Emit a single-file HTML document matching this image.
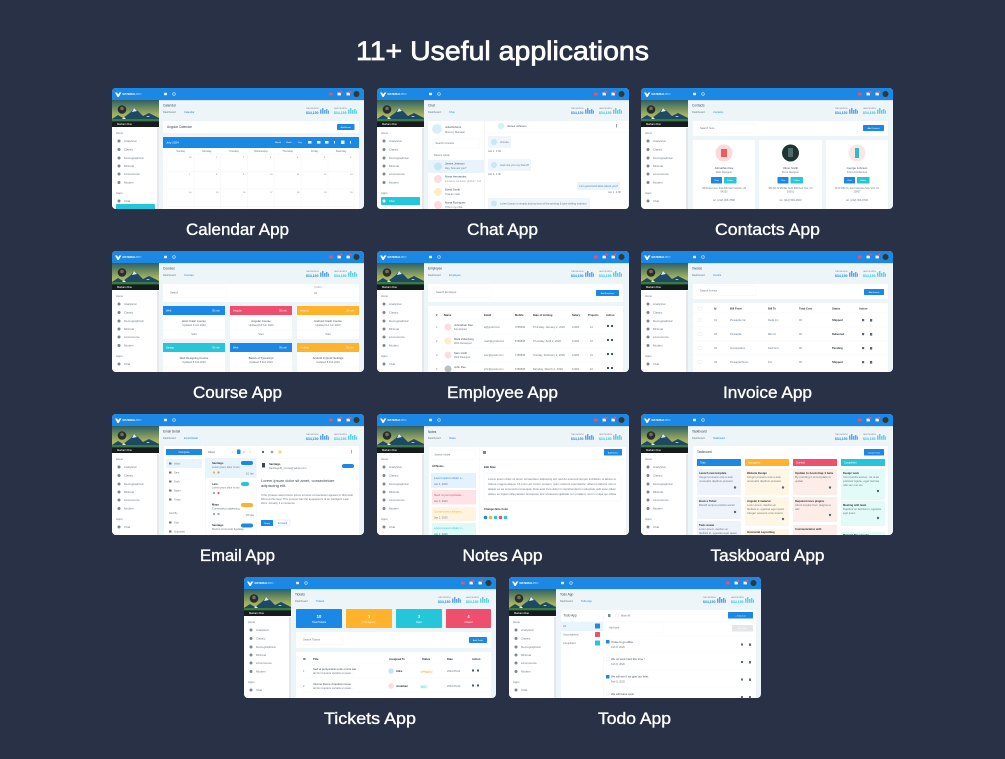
<!DOCTYPE html>
<html lang="en"><head><meta charset="utf-8"><title>11+ Useful applications</title>
<style>
html,body{margin:0;padding:0;background:#283146;width:1005px;height:759px;overflow:hidden}
svg{display:block;font-family:"Liberation Sans",sans-serif}
.h{fill:#fff;font-size:27px;stroke:#fff;stroke-width:.7px}
.l{fill:#fff;font-size:17px;stroke:#fff;stroke-width:.35px;text-anchor:middle}
.s{font-size:2.600px;fill:#6b7a85}
.d{font-size:2.800px;fill:#3f4f5c}
.b{font-size:2.700px;fill:#263238;font-weight:bold}
.t{font-size:3.200px;fill:#37474f}
.w{font-size:2.600px;fill:#fff}
.a{font-size:2.600px;fill:#1e88e5}
.m{text-anchor:middle}
</style></head><body>
<svg width="1005" height="759" viewBox="0 0 1005 759" xmlns="http://www.w3.org/2000/svg">
<defs>
<clipPath id="c"><rect width="252" height="121" rx="4"/></clipPath>
<filter id="f" x="0" y="0" width="100%" height="100%"><feGaussianBlur stdDeviation=".3"/></filter>
<linearGradient id="sky" x1="0" y1="0" x2="0" y2="1"><stop offset="0" stop-color="#2f5f63"/><stop offset=".55" stop-color="#a4b35f"/><stop offset="1" stop-color="#c5c36a"/></linearGradient>
<g id="chrome">
<rect width="252" height="121" fill="#eef5f9"/>
<rect width="252" height="12" fill="#1e88e5"/>
<rect y="12" width="252" height=".8" fill="#cfdde6"/>
<path d="M3 4.500h2l1.200 2 1.200-2h2L6.600 9h-1z" fill="#fff"/>
<text x="10.500" y="6.900" class="w" font-weight="bold" style="font-size:2.600px">MATERIAL<tspan fill="#bfe0fb" font-weight="normal">PRO</tspan></text>
<rect x="52" y="4.800" width="3" height="2.400" fill="#dcecfa"/><circle cx="62" cy="6" r="1.300" fill="none" stroke="#dcecfa" stroke-width=".6"/>
<rect x="217" y="4.600" width="3.600" height="2.800" fill="#ef4f6e"/>
<rect x="225.500" y="4.600" width="3.400" height="2.800" fill="#eef5fb"/><circle cx="229" cy="4" r="1.300" fill="#ef4f6e"/>
<rect x="234.500" y="4.600" width="3.400" height="2.800" fill="#eef5fb"/><circle cx="238" cy="4" r="1.300" fill="#ef4f6e"/>
<circle cx="244.500" cy="6" r="3" fill="#2f3a35"/>
<rect y="12" width="47" height="109" fill="#fff"/>
<rect x="45" y="40" width="2" height="81" fill="#e4e8ea"/>
<rect y="12" width="47" height="27" fill="url(#sky)"/>
<path d="M0 31l6-4 5 3 8-6 3-4 4 3 5 5 6-3 10 5v7H0z" fill="#1f4a63"/>
<path d="M20 24l2-4 3 3zM10 31l2-2 2 2zM34 29l2-1 2 1z" fill="#dfe9ee"/>
<rect y="31" width="47" height="2.400" fill="#3a7a42"/>
<rect y="33.400" width="47" height="5.600" fill="#161d1f"/>
<circle cx="10" cy="21.500" r="4.300" fill="#2b2f2c"/><circle cx="10" cy="20.500" r="1.800" fill="#786a5e"/>
<text x="5" y="37" class="w" style="font-size:2.600px">Markarn Doe</text>
<text x="4" y="46" class="s">Home</text>
<g fill="#7a8890"><circle cx="7" cy="53" r="1.500"/><circle cx="7" cy="61.500" r="1.500"/><circle cx="7" cy="70" r="1.500"/><circle cx="7" cy="78" r="1.500"/><circle cx="7" cy="86" r="1.500"/><circle cx="7" cy="94.500" r="1.500"/><circle cx="7" cy="113" r="1.500"/></g>
<g fill="#6b7a85" style="font-size:2.900px"><text x="12" y="54">Analytical</text><text x="12" y="62.500">Classic</text><text x="12" y="71">Demographical</text><text x="12" y="79">Minimal</text><text x="12" y="87">eCommerce</text><text x="12" y="95.500">Modern</text><text x="12" y="114">Chat</text><text x="4" y="106">Apps</text></g>
<text x="194" y="26" fill="#1e88e5" font-weight="bold" style="font-size:3.400px" textLength="12.500">$34,150</text>
<text x="222" y="26" fill="#26c6da" font-weight="bold" style="font-size:3.400px" textLength="12.500">$34,150</text>
<g fill="#1e88e5" opacity=".7"><rect x="208" y="21.500" width="1.500" height="4.300"/><rect x="210" y="20" width="1.500" height="5.800"/><rect x="212" y="22" width="1.500" height="3.800"/><rect x="214" y="21" width="1.500" height="4.800"/><rect x="216" y="22.500" width="1" height="3.300"/></g>
<g fill="#26c6da" opacity=".7"><rect x="236" y="21.500" width="1.500" height="4.300"/><rect x="238" y="20" width="1.500" height="5.800"/><rect x="240" y="22" width="1.500" height="3.800"/><rect x="242" y="21" width="1.500" height="4.800"/><rect x="244" y="22.500" width="1" height="3.300"/></g>
<text x="194" y="21" class="s" style="font-size:2px">THIS MONTH</text><text x="222" y="21" class="s" style="font-size:2px">LAST MONTH</text>
</g>
</defs>
<rect width="1005" height="759" fill="#283146"/>
<text x="502.500" y="60" class="h" text-anchor="middle" textLength="293" lengthAdjust="spacingAndGlyphs">11+ Useful applications</text>

<g filter="url(#f)">
<!-- Calendar -->
<g transform="translate(112 88)" clip-path="url(#c)"><use href="#chrome"/>
<rect x="4" y="116" width="39" height="8" rx="1" fill="#26c6da"/>
<text x="51" y="18.500" class="t">Calendar</text><text x="51" y="25" class="s">Dashboard</text><text x="72" y="25" class="a">Calendar</text>
<rect x="51" y="33" width="196" height="12" rx=".8" fill="#fff"/><text x="55" y="40" class="t">Angular Calendar</text>
<rect x="225" y="36" width="17.500" height="6" rx=".8" fill="#1e88e5"/><text x="233.700" y="40" class="w m" style="font-size:2.200px">Add Event</text>
<rect x="51" y="49" width="196" height="11" fill="#1e88e5"/><text x="54" y="55.500" class="w" style="font-size:3px">July 2024</text>
<text x="163" y="55" class="w" style="font-size:2.200px">Month</text><text x="174" y="55" class="w" style="font-size:2.200px">Week</text><text x="186" y="55" class="w" style="font-size:2.200px">Day</text>
<g fill="#e3f1fc"><rect x="196" y="53" width="3.500" height="2.600"/><rect x="205" y="53" width="3.500" height="2.600"/><rect x="213" y="53" width="3.500" height="2.600"/><rect x="222" y="53" width="1" height="2.600"/><rect x="229" y="52.500" width="3.500" height="3.500"/><rect x="238" y="53" width="1" height="2.600"/></g>
<rect x="51" y="60" width="196" height="61" fill="#fff"/>
<g class="s m"><text x="68.700" y="64">Sunday</text><text x="95" y="64">Monday</text><text x="122" y="64">Tuesday</text><text x="149" y="64">Wednesday</text><text x="175.700" y="64">Thursday</text><text x="202.700" y="64">Friday</text><text x="229" y="64">Saturday</text></g>
<path d="M55 66H242M55 83.500H242M55 101H242M55 118.500H242M55 66V121M82 66V121M108.500 66V121M135.500 66V121M162 66V121M189 66V121M216 66V121M242 66V121" stroke="#eef0f2" stroke-width=".4" fill="none"/>
<g fill="#6b7a85" style="font-size:2.200px"><text x="77" y="70">30</text><text x="104" y="70">1</text><text x="131" y="70">2</text><text x="158" y="70">3</text><text x="185" y="70">4</text><text x="212" y="70">5</text><text x="238" y="70">6</text><text x="77" y="87">7</text><text x="104" y="87">8</text><text x="131" y="87">9</text><text x="158" y="87">10</text><text x="185" y="87">11</text><text x="212" y="87">12</text><text x="238" y="87">13</text><text x="77" y="105">14</text><text x="104" y="105">15</text><text x="131" y="105">16</text><text x="158" y="105">17</text><text x="185" y="105">18</text><text x="212" y="105">19</text><text x="238" y="105">20</text></g>
</g>

<!-- Chat -->
<g transform="translate(377 88)" clip-path="url(#c)"><use href="#chrome"/>
<rect x="4" y="109" width="39" height="8" rx="1" fill="#26c6da"/><text x="12" y="114" class="w">Chat</text><circle cx="7" cy="113" r="1.500" fill="#fff"/>
<text x="51" y="18.500" class="t">Chat</text><text x="51" y="25" class="s">Dashboard</text><text x="72" y="25" class="a">Chat</text>
<rect x="51" y="33" width="200" height="88" fill="#fff"/><rect x="107" y="33" width=".4" height="88" fill="#e4e8ea"/>
<circle cx="60" cy="41" r="5" fill="#d8eff7"/><text x="68" y="40" class="d">Julia Roberts</text><text x="68" y="45" class="s">Mommy Manager</text>
<rect x="56" y="51" width="47" height="9" rx="1" fill="#fff" stroke="#eef0f2" stroke-width=".3"/><text x="58.500" y="56" class="s">Search contacts</text>
<text x="57" y="68" class="s">Recent Chats</text>
<rect x="51" y="72" width="56" height="13" fill="#e8f4fb"/>
<circle cx="61" cy="78.500" r="4" fill="#c7e6f3"/><text x="68" y="76.500" class="d">James Johnson</text><text x="68" y="81" class="s">Hey, how are you?</text>
<circle cx="61" cy="91" r="4" fill="#fcdce0"/><text x="68" y="89.500" class="d">Maria Hernandez</text><text x="68" y="94" class="s" textLength="36">Lorem ipsum dolor sit</text>
<circle cx="61" cy="104" r="4" fill="#fdecc8"/><text x="68" y="102.500" class="d">David Smith</text><text x="68" y="107" class="s">Thanks mate</text>
<circle cx="61" cy="117" r="4" fill="#fcdce0"/><text x="68" y="115.500" class="d">Maria Rodriguez</text><text x="68" y="120" class="s">This is my chat</text>
<circle cx="124" cy="38" r="3.300" fill="#d8eff7"/><text x="130" y="39" class="d">James Johnson</text><rect x="239" y="36" width=".8" height="3.500" fill="#7a8890"/>
<rect x="107" y="44" width="144" height=".3" fill="#eef0f2"/>
<rect x="111" y="48" width="23" height="12" rx="1" fill="#eef5fb"/><circle cx="117" cy="54" r="3" fill="#cbe7f3"/><text x="123" y="55" class="s">Hi Luke.</text><text x="111" y="64" class="s">Jan 1, 2:00</text>
<rect x="111" y="71" width="43" height="12" rx="1" fill="#eef5fb"/><circle cx="117" cy="77" r="3" fill="#cbe7f3"/><text x="123" y="78" class="s" textLength="29" lengthAdjust="spacingAndGlyphs">How are you my friend?</text><text x="111" y="87" class="s">Jan 1, 2:00</text>
<rect x="200" y="94" width="43" height="8" rx="1" fill="#e8f4fb"/><text x="202" y="99" class="s" textLength="39" lengthAdjust="spacingAndGlyphs">I am good and what about you?</text><text x="231" y="105" class="s">Jan 1, 2:00</text>
<rect x="111" y="110" width="102" height="11" rx="1" fill="#eef5fb"/><circle cx="117" cy="115.500" r="3" fill="#cbe7f3"/><text x="123" y="116.500" class="s" textLength="87" lengthAdjust="spacingAndGlyphs">Lorem Ipsum is simply dummy text of the printing &amp; type setting industry.</text>
</g>

<!-- Contacts -->
<g transform="translate(641 88)" clip-path="url(#c)"><use href="#chrome"/>
<text x="51" y="18.500" class="t">Contacts</text><text x="51" y="25" class="s">Dashboard</text><text x="72" y="25" class="a">Contacts</text>
<rect x="52" y="33" width="195" height="15" rx=".8" fill="#fff"/><rect x="56" y="36" width="59" height="9" rx="1" fill="#fff" stroke="#eef0f2" stroke-width=".3"/><text x="59" y="41" class="s">Search here..</text>
<rect x="222" y="37" width="21" height="6" rx=".8" fill="#1e88e5"/><text x="232.500" y="41" class="w m" style="font-size:2.200px">Add Contact</text>
<rect x="52" y="52" width="62" height="70" rx=".8" fill="#fff"/><rect x="118" y="52" width="63" height="70" rx=".8" fill="#fff"/><rect x="185" y="52" width="62" height="70" rx=".8" fill="#fff"/>
<circle cx="83" cy="65" r="8.500" fill="#f9d9d9"/><circle cx="149.500" cy="65" r="8.500" fill="#1e3531"/><circle cx="216" cy="65" r="8.500" fill="#fbe6e6"/>
<rect x="80" y="61" width="6" height="8" fill="#e85d5d"/><rect x="147" y="60" width="5" height="9" fill="#52676a"/><rect x="214" y="60" width="4" height="10" fill="#35b9c8"/>
<g class="d m"><text x="83" y="81">Johnathan Doe</text><text x="149.500" y="81">Oliver Smith</text><text x="216" y="81">George Johnson</text></g>
<g class="s m"><text x="83" y="85">Web Designer</text><text x="149.500" y="85">Front Designer</text><text x="216" y="85">Front Architecture</text>
<text x="83" y="101" textLength="44" lengthAdjust="spacingAndGlyphs">798 Dobson Ave, Suite 800 San Francisco, US</text><text x="83" y="104.500">94102</text><text x="149.500" y="101" textLength="44" lengthAdjust="spacingAndGlyphs">900 5th St Mirrilla, Suite 800 New York, NJ</text><text x="149.500" y="104.500">10001</text><text x="216" y="101" textLength="44" lengthAdjust="spacingAndGlyphs">35 W 18th St, San Francisco New York, NJ</text><text x="216" y="104.500">10007</text>
<text x="83" y="113">tel. (212) 456-7890</text><text x="149.500" y="113">tel. (212) 539-2600</text><text x="216" y="113">tel. (212) 304-9700</text></g>
<g fill="#1e88e5"><rect x="70" y="89" width="11" height="6.500" rx=".6"/><rect x="136.500" y="89" width="11" height="6.500" rx=".6"/><rect x="203" y="89" width="11" height="6.500" rx=".6"/></g>
<g fill="#26c6da"><rect x="83" y="89" width="12.500" height="6.500" rx=".6"/><rect x="149.500" y="89" width="12.500" height="6.500" rx=".6"/><rect x="216" y="89" width="12.500" height="6.500" rx=".6"/></g>
<g fill="#fff" text-anchor="middle" style="font-size:2.200px"><text x="75.500" y="93">Chat</text><text x="89" y="93">Follow</text><text x="142" y="93">Chat</text><text x="155.700" y="93">Follow</text><text x="208.500" y="93">Chat</text><text x="222" y="93">Follow</text></g>
</g>

<!-- Course -->
<g transform="translate(112 251)" clip-path="url(#c)"><use href="#chrome"/>
<text x="51" y="18.500" class="t">Courses</text><text x="51" y="25" class="s">Dashboard</text><text x="72" y="25" class="a">Courses</text>
<rect x="51" y="33" width="196" height="18" rx=".8" fill="#fff"/><rect x="55" y="37" width="60" height="9.500" rx="1" fill="#fff" stroke="#eef0f2" stroke-width=".3"/><text x="58" y="42.500" class="s">Search</text>
<rect x="200" y="37" width="42" height="9.500" rx="1" fill="#fff" stroke="#eef0f2" stroke-width=".3"/><text x="202" y="36.500" class="s" style="font-size:1.900px">Category</text><text x="202" y="43" class="s">All</text>
<g fill="#fff"><rect x="51" y="55" width="62" height="33" rx=".8"/><rect x="118" y="55" width="62" height="33" rx=".8"/><rect x="185" y="55" width="62" height="33" rx=".8"/><rect x="51" y="92" width="62" height="32" rx=".8"/><rect x="118" y="92" width="62" height="32" rx=".8"/><rect x="185" y="92" width="62" height="32" rx=".8"/></g>
<rect x="51" y="55" width="62" height="9" fill="#1e88e5"/><rect x="118" y="55" width="62" height="9" fill="#ef4f6e"/><rect x="185" y="55" width="62" height="9" fill="#ffb22b"/>
<rect x="51" y="92" width="62" height="9" fill="#26c6da"/><rect x="118" y="92" width="62" height="9" fill="#1e88e5"/><rect x="185" y="92" width="62" height="9" fill="#ffb22b"/>
<g fill="#fff" style="font-size:2.600px"><text x="54" y="60.500">Web</text><text x="121" y="60.500">Angular</text><text x="188" y="60.500">Android</text><text x="54" y="97.500">Design</text><text x="121" y="97.500">Web</text><text x="188" y="97.500">Android</text><text x="100" y="60.500">30 min</text><text x="167" y="60.500">30 min</text><text x="234" y="60.500">30 min</text><text x="100" y="97.500">30 min</text><text x="167" y="97.500">30 min</text><text x="234" y="97.500">30 min</text></g>
<g class="d m"><text x="82" y="71">Html Crash Course</text><text x="149" y="71">Angular Course</text><text x="216" y="71">Android Crash Course</text><text x="82" y="108">Web Designing Course</text><text x="149" y="108">Basics of Typescript</text><text x="216" y="108">Android 9 Quick Settings</text></g>
<g class="s m"><text x="82" y="75">Updated 8 Jun 2020</text><text x="149" y="75">Updated 18 Jun 2020</text><text x="216" y="75">Updated 14 Jun 2020</text><text x="82" y="112">Updated 8 Feb 2020</text><text x="149" y="112">Updated 8 Feb 2020</text><text x="216" y="112">Updated 8 Feb 2020</text>
<text x="82" y="84">Start</text><text x="149" y="84">Start</text><text x="216" y="84">Start</text></g>
<path d="M51 79H113M118 79H180M185 79H247M51 116H113M118 116H180M185 116H247" stroke="#eef0f2" stroke-width=".3"/>
</g>

<!-- Employee -->
<g transform="translate(377 251)" clip-path="url(#c)"><use href="#chrome"/>
<text x="51" y="18.500" class="t">Employee</text><text x="51" y="25" class="s">Dashboard</text><text x="72" y="25" class="a">Employee</text>
<rect x="51" y="33" width="195" height="18" rx=".8" fill="#fff"/><rect x="56" y="37" width="59" height="9.500" rx="1" fill="#fff" stroke="#eef0f2" stroke-width=".3"/><text x="59" y="42" class="s">Search Employee</text>
<rect x="219" y="39" width="23" height="6" rx=".8" fill="#1e88e5"/><text x="230.500" y="43" class="w m" style="font-size:2.100px">Add Employee</text>
<rect x="51" y="55" width="195" height="66" rx=".8" fill="#fff"/>
<g class="b"><text x="59" y="65">#</text><text x="67" y="65">Name</text><text x="107" y="65">Email</text><text x="138" y="65">Mobile</text><text x="156" y="65">Date of Joining</text><text x="195" y="65">Salary</text><text x="211" y="65">Projects</text><text x="229" y="65">Action</text></g>
<circle cx="71" cy="76" r="3.500" fill="#fcdce0"/><circle cx="71" cy="90" r="3.500" fill="#fdecc8"/><circle cx="71" cy="104" r="3.500" fill="#fcdce0"/><circle cx="71" cy="118" r="3.500" fill="#b9c0c4"/>
<g class="d"><text x="77" y="75">Johnathan Deo</text><text x="77" y="89">Mark Zukerburg</text><text x="77" y="103">Sam smith</text><text x="77" y="117">John Deo</text></g>
<g class="s"><text x="77" y="79">Seo Expert</text><text x="77" y="93">Web Developer</text><text x="77" y="107">Web Designer</text>
<text x="59" y="77">1</text><text x="59" y="91">2</text><text x="59" y="105">3</text><text x="59" y="119">4</text>
<text x="107" y="77">a@gmail.com</text><text x="107" y="91">mark@gmail.com</text><text x="107" y="105">sam@gmail.com</text><text x="107" y="119">john@gmail.com</text>
<text x="138" y="77">9786838</text><text x="138" y="91">8786838</text><text x="138" y="105">7786838</text><text x="138" y="119">6786838</text>
<text x="156" y="77" textLength="32" lengthAdjust="spacingAndGlyphs">Thursday, January 2, 2020</text><text x="156" y="91" textLength="28" lengthAdjust="spacingAndGlyphs">Thursday, April 2, 2020</text><text x="156" y="105" textLength="32" lengthAdjust="spacingAndGlyphs">Sunday, February 2, 2020</text><text x="156" y="119" textLength="30" lengthAdjust="spacingAndGlyphs">Monday, March 2, 2020</text>
<text x="195" y="77">12000</text><text x="195" y="91">12000</text><text x="195" y="105">12000</text><text x="195" y="119">12000</text>
<text x="213" y="77">10</text><text x="213" y="91">10</text><text x="213" y="105">10</text><text x="213" y="119">10</text></g>
<g fill="#455a64"><rect x="230" y="74" width="2" height="2"/><rect x="234" y="74" width="2" height="2"/><rect x="230" y="88" width="2" height="2"/><rect x="234" y="88" width="2" height="2"/><rect x="230" y="102" width="2" height="2"/><rect x="234" y="102" width="2" height="2"/><rect x="230" y="116" width="2" height="2"/><rect x="234" y="116" width="2" height="2"/></g>
<path d="M58 69H242M58 83H242M58 97H242M58 111H242" stroke="#f1f3f5" stroke-width=".3"/>
</g>

<!-- Invoice -->
<g transform="translate(641 251)" clip-path="url(#c)"><use href="#chrome"/>
<text x="51" y="18.500" class="t">Invoice</text><text x="51" y="25" class="s">Dashboard</text><text x="72" y="25" class="a">Invoice</text>
<rect x="52" y="33" width="195" height="15" rx=".8" fill="#fff"/><rect x="56" y="35" width="59" height="9.500" rx="1" fill="#fff" stroke="#eef0f2" stroke-width=".3"/><text x="59" y="40.500" class="s">Search Invoice</text>
<rect x="223" y="38" width="20" height="6" rx=".8" fill="#1e88e5"/><text x="233" y="42" class="w m" style="font-size:2.100px">Add Invoice</text>
<rect x="52" y="52" width="195" height="69" rx=".8" fill="#fff"/>
<g class="b"><text x="73" y="58.500">Id</text><text x="89" y="58.500">Bill From</text><text x="127" y="58.500">Bill To</text><text x="158" y="58.500">Total Cost</text><text x="191" y="58.500">Status</text><text x="218" y="58.500">Action</text>
<text x="191" y="70">Shipped</text><text x="191" y="84">Delivered</text><text x="191" y="98">Pending</text><text x="191" y="112">Shipped</text></g>
<g class="s"><text x="73" y="70">01</text><text x="89" y="70">Pineapple Inc</text><text x="127" y="70">Redq Inc</text><text x="158" y="70">90</text>
<text x="73" y="84">02</text><text x="89" y="84">Pineapple.</text><text x="127" y="84">ME Inc</text><text x="158" y="84">90</text>
<text x="73" y="98">03</text><text x="89" y="98">Incorporation.</text><text x="127" y="98">Redi And</text><text x="158" y="98">90</text>
<text x="73" y="112">04</text><text x="89" y="112">PineappleTimes</text><text x="127" y="112">Pro</text><text x="158" y="112">90</text></g>
<g fill="none" stroke="#dfe4e7" stroke-width=".4"><rect x="57" y="56" width="3.200" height="3.200" rx=".4"/><rect x="57" y="67.500" width="3.200" height="3.200" rx=".4"/><rect x="57" y="81.500" width="3.200" height="3.200" rx=".4"/><rect x="57" y="95.500" width="3.200" height="3.200" rx=".4"/><rect x="57" y="109.500" width="3.200" height="3.200" rx=".4"/></g>
<g fill="#5a6a74"><rect x="221" y="68" width="2.200" height="2.200"/><rect x="229" y="68" width="2.200" height="2.600"/><rect x="221" y="82" width="2.200" height="2.200"/><rect x="229" y="82" width="2.200" height="2.600"/><rect x="221" y="96" width="2.200" height="2.200"/><rect x="229" y="96" width="2.200" height="2.600"/><rect x="221" y="110" width="2.200" height="2.200"/><rect x="229" y="110" width="2.200" height="2.600"/></g>
<path d="M52 62H247M52 76H247M52 90H247M52 104H247M52 118H247" stroke="#eef0f2" stroke-width=".3"/>
</g>

<!-- Email -->
<g transform="translate(112 414)" clip-path="url(#c)"><use href="#chrome"/>
<text x="51" y="18.500" class="t">Email Detail</text><text x="51" y="25" class="s">Dashboard</text><text x="72" y="25" class="a">Email Detail</text>
<rect x="52" y="32" width="195" height="89" fill="#fff"/>
<rect x="54" y="35" width="36" height="6" rx=".5" fill="#1e88e5"/><text x="72" y="39" class="w m">Compose</text>
<rect x="54" y="45" width="36" height="9" rx=".5" fill="#e8f4fb"/>
<g fill="#6c7a84"><rect x="57" y="48.500" width="2.500" height="2"/><rect x="57" y="57.500" width="2.500" height="2"/><rect x="57" y="66.500" width="2.500" height="2"/><rect x="57" y="75.500" width="2.500" height="2"/><rect x="57" y="84.500" width="2.500" height="2"/><rect x="57" y="107.500" width="2.500" height="2"/><rect x="57" y="116.500" width="2.500" height="2"/></g>
<g class="s"><text x="62" y="50.500">Inbox</text><text x="62" y="59.500">Sent</text><text x="62" y="68.500">Draft</text><text x="62" y="77.500">Spam</text><text x="62" y="86.500">Trash</text><text x="57" y="100">Sort By</text><text x="62" y="109.500">Star</text><text x="62" y="118.500">Important</text></g>
<rect x="93" y="32" width=".4" height="89" fill="#eef0f2"/><rect x="144" y="32" width=".4" height="89" fill="#eef0f2"/>
<text x="96" y="39" class="d">Inbox</text><text x="120" y="39" class="s">&lt;</text><rect x="125" y="35.500" width="3.500" height="4.500" rx=".5" fill="#1e88e5"/><text x="131" y="39" class="s">2</text><text x="137" y="39" class="s">&gt;</text>
<rect x="93" y="44" width="51" height="20" fill="#e8f4fb"/>
<g class="b"><text x="100" y="50">Santiago</text><text x="100" y="71">Lara</text><text x="100" y="91.500">Maya</text><text x="100" y="112">Santiago</text><text x="157" y="51" style="font-size:2.700px">Santiago</text></g>
<g class="s"><text x="100" y="54" textLength="29" lengthAdjust="spacingAndGlyphs">Lorem ipsum dolor sit am..</text><text x="100" y="74.500" textLength="29" lengthAdjust="spacingAndGlyphs">Lorem ipsum dolor sit am..</text><text x="100" y="95.500" textLength="29" lengthAdjust="spacingAndGlyphs">Consectetur adipiscing..</text><text x="100" y="116" textLength="33" lengthAdjust="spacingAndGlyphs">Mazen commodo ligulaag..</text><text x="134" y="60.500">10 Jan</text><text x="134" y="102">20 Nov</text></g>
<rect x="129" y="47" width="12" height="4" rx="2" fill="#1e88e5"/><rect x="129" y="68" width="8" height="4" rx="2" fill="#26c6da"/><rect x="129" y="89" width="12" height="4" rx="2" fill="#ffb22b"/><rect x="129" y="109.500" width="12" height="4" rx="2" fill="#1e88e5"/>
<circle cx="102" cy="58.500" r="1.100" fill="#ffb22b"/><circle cx="106.500" cy="58.500" r="1.100" fill="#9aa6ad"/><circle cx="102" cy="79" r="1.100" fill="#9aa6ad"/><circle cx="106.500" cy="79" r="1.100" fill="#ef4f6e"/><circle cx="102" cy="100" r="1.100" fill="#9aa6ad"/><circle cx="106.500" cy="100" r="1.100" fill="#9aa6ad"/>
<circle cx="151" cy="38" r="1.200" fill="#5a6a74"/><circle cx="160" cy="38" r="1.400" fill="#9aa6ad"/><circle cx="168" cy="38" r="1.600" fill="#ffd27a"/><rect x="239" y="36" width=".7" height="3.400" fill="#7a8890"/>
<path d="M144 44.500H247" stroke="#eef0f2" stroke-width=".3"/>
<rect x="150" y="49" width="3" height="4.500" fill="#37474f"/><text x="157" y="55" class="s">Santiago45_Cruise@yahoo.com</text>
<rect x="230" y="50" width="12" height="4" rx="2" fill="#1e88e5"/>
<text x="149" y="68" fill="#37474f" style="font-size:4px">Lorem ipsum dolor sit amet, consectetuer</text><text x="149" y="73" fill="#37474f" style="font-size:4px">adipiscing elit.</text>
<g class="s"><text x="149" y="82" textLength="92" lengthAdjust="spacingAndGlyphs">If the phrases asked lorem ipsum sit amet consectetuer appears in Microsoft</text><text x="149" y="86" textLength="88" lengthAdjust="spacingAndGlyphs">Word at this step. This process has the appearance of an intelligent Latin</text><text x="149" y="90">idiom. Actually, it is nonsense.</text></g>
<rect x="149" y="106" width="12" height="6" rx=".6" fill="#1e88e5"/><text x="155" y="110" class="w m" style="font-size:2.200px">Reply</text>
<rect x="163" y="106" width="15" height="6" rx=".6" fill="#fff" stroke="#bcdcf5" stroke-width=".4"/><text x="170.500" y="110" class="a m">Forward</text>
</g>

<!-- Notes -->
<g transform="translate(377 414)" clip-path="url(#c)"><use href="#chrome"/>
<text x="51" y="19" class="t">Notes</text><text x="51" y="25" class="s">Dashboard</text><text x="72" y="25" class="a">Notes</text>
<rect x="52" y="33" width="197" height="88" rx=".8" fill="#fff"/><rect x="102" y="33" width=".4" height="88" fill="#eef0f2"/>
<rect x="55" y="36" width="43" height="9.500" rx="1" fill="#fff" stroke="#eef0f2" stroke-width=".3"/><text x="57.500" y="41.500" class="s">Search Notes</text>
<text x="55" y="53" class="b">All Notes</text>
<rect x="54" y="59" width="45" height="15" rx=".8" fill="#e3f2fd"/><rect x="55" y="76" width="44" height="14.500" rx=".8" fill="#fde3e8"/><rect x="55" y="93" width="44" height="14" rx=".8" fill="#fff4e0"/><rect x="55" y="109" width="44" height="14" rx=".8" fill="#dff9f6"/>
<text x="57" y="65" class="a" textLength="30" lengthAdjust="spacingAndGlyphs">Lorem ipsum dolor s...</text><text x="57" y="82" style="font-size:2.600px" fill="#ef4f6e" textLength="30" lengthAdjust="spacingAndGlyphs">Sed ut perspiciatis...</text><text x="57" y="98.500" style="font-size:2.600px" fill="#ffb22b" textLength="30" lengthAdjust="spacingAndGlyphs">Consectetur adipisc...</text><text x="57" y="115" style="font-size:2.600px" fill="#26c6da" textLength="30" lengthAdjust="spacingAndGlyphs">Lorem ipsum dolor s...</text>
<g class="s"><text x="57" y="71">Jan 4, 2020</text><text x="57" y="88">Jan 3, 2020</text><text x="57" y="104.500">Jan 1, 2020</text><text x="57" y="121">Jan 1, 2020</text></g>
<rect x="102" y="45" width="147" height=".3" fill="#eef0f2"/><rect x="106" y="37" width="3" height="3" fill="#7a8890"/>
<rect x="227" y="35" width="18" height="6.500" rx=".6" fill="#1e88e5"/><text x="236" y="39.300" class="w m" style="font-size:2.200px">Add Notes</text>
<text x="107" y="54" class="b">Edit Note</text>
<rect x="107" y="59" width="137" height="28" rx="1" fill="#fff" stroke="#f1f3f5" stroke-width=".4"/>
<g class="s"><text x="111" y="66" textLength="128" lengthAdjust="spacingAndGlyphs">Lorem ipsum dolor sit amet, consectetur adipiscing elit, sed do eiusmod tempor incididunt ut labore et</text><text x="111" y="71" textLength="128" lengthAdjust="spacingAndGlyphs">dolore magna aliqua. Ut enim ad minim veniam, quis nostrud exercitation ullamco laboris nisi ut</text><text x="111" y="76" textLength="128" lengthAdjust="spacingAndGlyphs">aliquip ex ea commodo consequat. Duis aute irure dolor in reprehenderit in voluptate velit esse cillum</text><text x="111" y="81" textLength="128" lengthAdjust="spacingAndGlyphs">dolore eu fugiat nulla pariatur. Excepteur sint occaecat cupidatat non proident, sunt in culpa qui officia</text></g>
<text x="107" y="96" class="b">Change Note Color</text>
<circle cx="108.500" cy="103.500" r="1.800" fill="#1e88e5"/><circle cx="113.500" cy="103.500" r="1.800" fill="#ffb22b"/><circle cx="118.500" cy="103.500" r="1.800" fill="#26c6da"/><circle cx="123.500" cy="103.500" r="1.800" fill="#ef4f6e"/><circle cx="128.500" cy="103.500" r="1.800" fill="#26c6da"/>
</g>

<!-- Taskboard -->
<g transform="translate(641 414)" clip-path="url(#c)"><use href="#chrome"/>
<text x="51" y="18.500" class="t">Taskboard</text><text x="51" y="25" class="s">Dashboard</text><text x="72" y="25" class="a">Taskboard</text>
<rect x="52" y="32" width="195" height="89" rx=".8" fill="#fff"/><text x="56" y="39" class="t">Taskboard</text>
<rect x="223" y="35" width="20" height="6.500" rx=".6" fill="#1e88e5"/><text x="233" y="39.500" class="w m" style="font-size:2.200px">Create Task</text>
<rect x="56" y="45" width="44" height="7" rx=".5" fill="#1e88e5"/><rect x="104" y="45" width="44" height="7" rx=".5" fill="#ffb22b"/><rect x="152" y="45" width="44" height="7" rx=".5" fill="#ef4f6e"/><rect x="200" y="45" width="44" height="7" rx=".5" fill="#26c6da"/>
<g fill="#fff" style="font-size:2.600px"><text x="59" y="49.500">Todo</text><text x="107" y="49.500">Inprogress</text><text x="155" y="49.500">OnHold</text><text x="203" y="49.500">Completed</text></g>
<g fill="#eef2fb"><rect x="56" y="55" width="44" height="26" rx=".6"/><rect x="56" y="83" width="44" height="22" rx=".6"/><rect x="56" y="107" width="44" height="16" rx=".6"/></g>
<g fill="#fff6e6"><rect x="104" y="55" width="44" height="26" rx=".6"/><rect x="104" y="83" width="44" height="29" rx=".6"/><rect x="104" y="115" width="44" height="8" rx=".6"/></g>
<g fill="#fdede8"><rect x="152" y="55" width="44" height="26" rx=".6"/><rect x="152" y="83" width="44" height="25" rx=".6"/><rect x="152" y="111" width="44" height="12" rx=".6"/></g>
<g fill="#e3fbf8"><rect x="200" y="55" width="44" height="31" rx=".6"/><rect x="200" y="87" width="44" height="25" rx=".6"/><rect x="200" y="118" width="44" height="5" rx=".6"/></g>
<g class="b"><text x="58" y="60">Launch new template</text><text x="58" y="88">Book a Ticket</text><text x="58" y="112">Task review</text><text x="106" y="60">Website Design</text><text x="106" y="88">Angular 9 material</text><text x="106" y="119">Horizontal Layoutbug</text><text x="154" y="60" textLength="38" lengthAdjust="spacingAndGlyphs">Update to bootstrap 4 beta</text><text x="154" y="88">Required more plugins</text><text x="154" y="116">Communication with</text><text x="202" y="60">Design work</text><text x="202" y="92">Meeting with team</text><text x="202" y="122">Material Pro popular</text></g>
<g class="s"><text x="58" y="64" textLength="34" lengthAdjust="spacingAndGlyphs">Integer posuere erat a ante</text><text x="58" y="68" textLength="34" lengthAdjust="spacingAndGlyphs">venenatis dapibus posuere</text><text x="58" y="92" textLength="36" lengthAdjust="spacingAndGlyphs">Blandit tempus porttitor auctor</text><text x="58" y="116">Lorem ipsum, dapibus ac</text><text x="58" y="120" textLength="38" lengthAdjust="spacingAndGlyphs">facilisis in, egestas eget quam</text><text x="106" y="64" textLength="34" lengthAdjust="spacingAndGlyphs">Integer posuere erat a ante</text><text x="106" y="68" textLength="34" lengthAdjust="spacingAndGlyphs">venenatis dapibus posuere</text><text x="106" y="92">Lorem ipsum, dapibus ac</text><text x="106" y="96" textLength="38" lengthAdjust="spacingAndGlyphs">facilisis in, egestas eget quam.</text><text x="106" y="100" textLength="36" lengthAdjust="spacingAndGlyphs">Integer posuere erat viverra</text><text x="154" y="64" textLength="36" lengthAdjust="spacingAndGlyphs">By pointing it at template to</text><text x="154" y="68">update</text><text x="154" y="92" textLength="36" lengthAdjust="spacingAndGlyphs">Client inquire from plugins to</text><text x="154" y="96">add</text><text x="202" y="64" textLength="36" lengthAdjust="spacingAndGlyphs">Commodo luctus, mi cras</text><text x="202" y="68" textLength="36" lengthAdjust="spacingAndGlyphs">porttitor ligula, eget lacinia</text><text x="202" y="72">odio sem nec elit</text><text x="202" y="96" textLength="38" lengthAdjust="spacingAndGlyphs">Dapibus ac facilisis in, egestas</text><text x="202" y="100">eget quam.</text></g>
<g fill="#5a6a74"><circle cx="94" cy="73.500" r="1.200"/><circle cx="94" cy="98" r="1.200"/><circle cx="142" cy="73.500" r="1.200"/><circle cx="142" cy="105" r="1.200"/><circle cx="189" cy="73.500" r="1.200"/><circle cx="189" cy="101" r="1.200"/><circle cx="237" cy="77" r="1.200"/><circle cx="237" cy="104" r="1.200"/></g>
</g>

<!-- Tickets -->
<g transform="translate(244 577)" clip-path="url(#c)"><use href="#chrome"/>
<text x="51" y="18.500" class="t">Tickets</text><text x="51" y="25" class="s">Dashboard</text><text x="72" y="25" class="a">Tickets</text>
<rect x="52" y="32" width="46" height="19" rx=".8" fill="#1e88e5"/><rect x="102" y="32" width="46" height="19" rx=".8" fill="#ffb22b"/><rect x="152" y="32" width="46" height="19" rx=".8" fill="#26c6da"/><rect x="202" y="32" width="45" height="19" rx=".8" fill="#ef4f6e"/>
<g fill="#fff" text-anchor="middle" font-weight="bold" style="font-size:4.200px"><text x="75" y="41">10</text><text x="125" y="41">3</text><text x="175" y="41">3</text><text x="224.500" y="41">4</text></g>
<g fill="#fff" text-anchor="middle" style="font-size:2.600px"><text x="75" y="46">Total Tickets</text><text x="125" y="46">In Progress</text><text x="175" y="46">Open</text><text x="224.500" y="46">Closed</text></g>
<rect x="52" y="55" width="195" height="16" rx=".8" fill="#fff"/><rect x="56" y="58" width="43" height="9.500" rx="1" fill="#fff" stroke="#eef0f2" stroke-width=".3"/><text x="59" y="63.500" class="s">Search Tickets</text>
<rect x="225" y="60" width="18" height="6" rx=".6" fill="#1e88e5"/><text x="234" y="64" class="w m" style="font-size:2.200px">Add Ticket</text>
<rect x="52" y="75" width="195" height="46" rx=".8" fill="#fff"/>
<g class="b"><text x="59" y="83">ID</text><text x="69" y="83">Title</text><text x="145" y="83">Assigned To</text><text x="178" y="83">Status</text><text x="203" y="83">Date</text><text x="228" y="83">Action</text><text x="152" y="95">Alice</text><text x="152" y="110">Jonathan</text></g>
<g class="d"><text x="69" y="93">Sed ut perspiciatis unde omnis iste</text><text x="69" y="108">Xtreme theme dropdown issue</text></g>
<g class="s"><text x="69" y="97">ab illo inventore veritatis et quasi...</text><text x="69" y="112">ab illo inventore veritatis et quasi...</text><text x="59" y="95">1</text><text x="59" y="110">2</text><text x="203" y="95">2022-05-01</text><text x="203" y="110">2022-05-03</text></g>
<circle cx="147" cy="94" r="2.800" fill="#c7e6f3"/><circle cx="147" cy="109" r="2.800" fill="#fcdce0"/>
<rect x="176" y="92.500" width="13" height="4" rx=".5" fill="#fff6e6"/><text x="177" y="95.300" style="font-size:2.100px" fill="#b58b2d">In Progress</text><rect x="176" y="107.500" width="8" height="4" rx=".5" fill="#e0f8fb"/><text x="177" y="110.300" style="font-size:2.100px" fill="#26a6b5">Open</text>
<g fill="#455a64"><rect x="228" y="92.500" width="2" height="2"/><rect x="233" y="92.500" width="2" height="2"/><rect x="228" y="107.500" width="2" height="2"/><rect x="233" y="107.500" width="2" height="2"/></g>
<path d="M56 87H243M56 101H243M56 115H243" stroke="#f1f3f5" stroke-width=".3"/>
</g>

<!-- Todo -->
<g transform="translate(509 577)" clip-path="url(#c)"><use href="#chrome"/>
<text x="51" y="18.500" class="t">Todo App</text><text x="51" y="25" class="s">Dashboard</text><text x="72" y="25" class="a">Todo App</text>
<rect x="52" y="33" width="195" height="88" rx=".8" fill="#fff"/><rect x="94" y="33" width=".4" height="88" fill="#eef0f2"/><rect x="52" y="44" width="195" height=".3" fill="#eef0f2"/>
<text x="54.500" y="39.500" class="t">Todo App</text>
<rect x="52" y="45" width="42" height="9" fill="#e8f4fb"/>
<g class="s"><text x="54" y="50">All</text><text x="54" y="58.500">Uncompleted</text><text x="54" y="67">Completed</text></g>
<rect x="86" y="46.500" width="5" height="5" rx=".6" fill="#1e88e5"/><rect x="86" y="55" width="5" height="5" rx=".6" fill="#ef4f6e"/><rect x="86" y="63.500" width="5" height="5" rx=".6" fill="#26c6da"/>
<rect x="99" y="37" width="2.500" height="3" fill="#7a8890"/><circle cx="108" cy="38.500" r="1.700" fill="none" stroke="#dfe4e7" stroke-width=".4"/><text x="112" y="39.500" class="s">Mark All</text>
<rect x="219" y="35" width="25" height="6.500" rx=".6" fill="#1e88e5"/><text x="231.500" y="39.500" class="w m" style="font-size:2.200px">+ Task List</text>
<rect x="97" y="46" width="58" height="10" rx="1" fill="#fff" stroke="#f1f3f5" stroke-width=".3"/><text x="100" y="51.500" class="s">Add task</text>
<rect x="223" y="48" width="21" height="6.500" rx=".6" fill="#e4e6e8"/><text x="233.500" y="52" class="m" fill="#fff" style="font-size:2.200px">Add Todo</text>
<path d="M94 59H247M94 76H247M94 93H247M94 111H247" stroke="#f1f3f5" stroke-width=".3"/>
<rect x="97" y="63" width="3.500" height="3.500" rx=".4" fill="#1e88e5"/><circle cx="98.700" cy="82" r="1.700" fill="none" stroke="#dfe4e7" stroke-width=".4"/><rect x="97" y="98" width="3.500" height="3.500" rx=".4" fill="#1e88e5"/><circle cx="98.700" cy="117" r="1.700" fill="none" stroke="#dfe4e7" stroke-width=".4"/>
<g class="d"><text x="102" y="66">I have to go office.</text><text x="102" y="83">We us work hard this time !</text><text x="102" y="100.500">We will win if we give our best.</text><text x="102" y="118">We will leave soon.</text></g>
<g class="s"><text x="102" y="71">Feb 8, 2020</text><text x="102" y="88">Feb 8, 2020</text><text x="102" y="105.500">Feb 8, 2020</text></g>
<g fill="#5a6a74"><rect x="232" y="66.500" width="2" height="2"/><rect x="240" y="66.500" width="2" height="2.400"/><rect x="232" y="84" width="2" height="2"/><rect x="240" y="84" width="2" height="2.400"/><rect x="232" y="101.500" width="2" height="2"/><rect x="240" y="101.500" width="2" height="2.400"/><rect x="232" y="119" width="2" height="2"/><rect x="240" y="119" width="2" height="2"/></g>
</g>
</g>

<g>
<text x="237.500" y="235" class="l" textLength="103" lengthAdjust="spacingAndGlyphs">Calendar App</text>
<text x="502.500" y="235" class="l" textLength="71" lengthAdjust="spacingAndGlyphs">Chat App</text>
<text x="767.500" y="235" class="l" textLength="105" lengthAdjust="spacingAndGlyphs">Contacts App</text>
<text x="237.500" y="398" class="l" textLength="89" lengthAdjust="spacingAndGlyphs">Course App</text>
<text x="502.500" y="398" class="l" textLength="111" lengthAdjust="spacingAndGlyphs">Employee App</text>
<text x="767.500" y="398" class="l" textLength="89" lengthAdjust="spacingAndGlyphs">Invoice App</text>
<text x="237.500" y="561" class="l" textLength="75" lengthAdjust="spacingAndGlyphs">Email App</text>
<text x="502.500" y="561" class="l" textLength="80" lengthAdjust="spacingAndGlyphs">Notes App</text>
<text x="767.500" y="561" class="l" textLength="114" lengthAdjust="spacingAndGlyphs">Taskboard App</text>
<text x="370" y="724" class="l" textLength="92" lengthAdjust="spacingAndGlyphs">Tickets  App</text>
<text x="634.500" y="724" class="l" textLength="73" lengthAdjust="spacingAndGlyphs">Todo App</text>
</g>
</svg>
</body></html>
